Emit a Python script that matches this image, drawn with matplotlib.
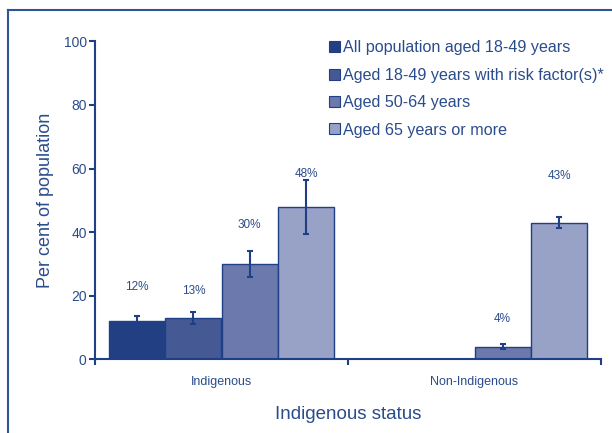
import numpy as np
import matplotlib.pyplot as plt
from matplotlib.lines import Line2D
from matplotlib.patches import Patch

plt.rcParams['font.family'] = ['Liberation Sans', 'DejaVu Sans']

# data
groups = ['Indigenous', 'Non-Indigenous']
series = ['All population aged 18-49 years',
          'Aged 18-49 years with risk factor(s)*',
          'Aged 50-64 years',
          'Aged 65 years or more']
values = [[12, 13, 30, 48],
          [np.nan, np.nan, 4, 43]]
errors = [[1.5, 1.9, 4.2, 8.5],
          [0, 0, 0.85, 1.8]]
pct_labels = [['12%', '13%', '30%', '48%'],
              ['', '', '4%', '43%']]
label_y = [[22.6, 21.6, 42.2, 58.3],
           [0, 0, 12.6, 57.6]]

colors = ['#223f84', '#455a95', '#6c79ac', '#98a1c6']
edge = '#1f3f86'
txt = '#2b4c8c'

fig = plt.figure(figsize=(6.12, 4.33), dpi=100)
ax = fig.add_axes([95 / 612, 1 - 359.3 / 433, 506 / 612, 318 / 433])

width = 0.2225
centers = np.array([0.5, 1.5])
for i in range(len(series)):
    xs = centers + (i - 1.5) * width
    vals = np.array([values[g][i] for g in range(len(groups))], dtype=float)
    errs = np.array([errors[g][i] for g in range(len(groups))], dtype=float)
    ax.bar(xs, vals, width=width, color=colors[i], edgecolor=edge, linewidth=1.0)
    for g in range(len(groups)):
        if np.isnan(vals[g]):
            continue
        ax.errorbar(xs[g], vals[g], yerr=errs[g], fmt='none', ecolor=edge,
                    elinewidth=1.5, capsize=2.3, capthick=1.5)
        ax.text(xs[g], label_y[g][i], pct_labels[g][i], ha='center', va='center',
                fontsize=8.5, color=txt)

ax.set_xlim(0, 2)
ax.set_ylim(0, 100)
ax.set_yticks([0, 20, 40, 60, 80, 100])
ax.set_xticks([0, 1, 2])
ax.set_xticklabels([])
ax.set_xticks(centers, minor=True)
ax.set_xticklabels(groups, minor=True)
ax.tick_params(axis='x', which='minor', length=0, pad=12, labelsize=9, labelcolor=txt)
ax.tick_params(axis='x', which='major', length=4, width=1.5, color=edge)
ax.tick_params(axis='y', length=4, width=1.5, color=edge, labelsize=10, labelcolor=txt, pad=2)

for s in ['top', 'right']:
    ax.spines[s].set_visible(False)
for s in ['left', 'bottom']:
    ax.spines[s].set_color(edge)
    ax.spines[s].set_linewidth(1.5)

ax.set_ylabel('Per cent of population', fontsize=13, color=txt, labelpad=7)
ax.set_xlabel('Indigenous status', fontsize=13.5, color=txt, labelpad=13)

handles = [Patch(facecolor=c, edgecolor=edge, linewidth=0.8) for c in colors]
leg = ax.legend(handles, series, loc='upper left', bbox_to_anchor=(0.462, 1.003),
                frameon=False, fontsize=11.6, handlelength=0.68, handleheight=0.68,
                handletextpad=0.2, labelspacing=0.77, borderaxespad=0,
                borderpad=0)
for t in leg.get_texts():
    t.set_color(txt)

# outer frame lines
fig.add_artist(Line2D([8 / 612, 8 / 612], [0, 1 - 10 / 433], color='#2f5597', linewidth=1.5))
fig.add_artist(Line2D([8 / 612, 1], [1 - 10 / 433, 1 - 10 / 433], color='#2f5597', linewidth=1.5))

fig.savefig('out.png', dpi=100)
